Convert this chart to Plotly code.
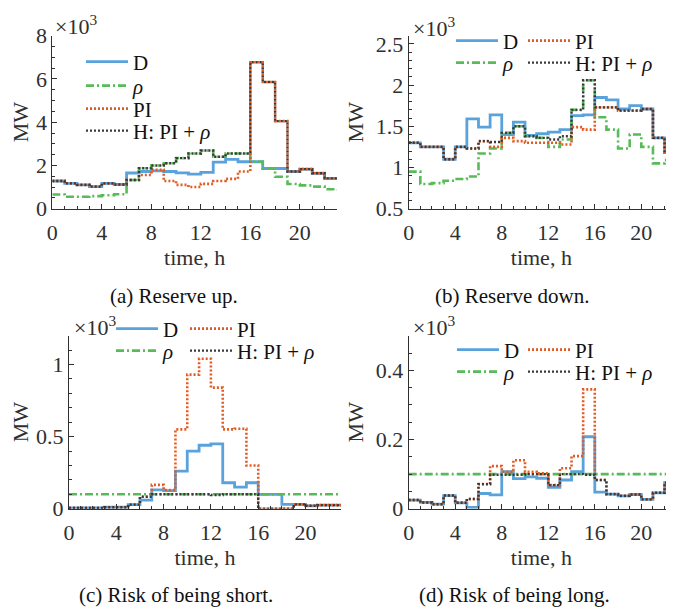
import plotly.graph_objects as go

PAGE_W, PAGE_H = 674, 610
OFF = 8  # default body margin of the page
W, H = PAGE_W - OFF, PAGE_H - OFF

hours = list(range(24))

# Panel (a) Reserve up (x10^3 MW)
D_a = [1.28, 1.17, 1.10, 1.02, 1.17, 1.12, 1.65, 1.72, 1.75, 1.72, 1.66, 1.60, 1.68, 2.15, 2.28, 2.17, 2.17, 1.86, 1.86, 1.72, 1.83, 1.64, 1.40, 1.40]
rho_a = [0.66, 0.55, 0.55, 0.58, 0.62, 0.67, 1.33, 1.87, 2.00, 2.10, 2.34, 2.55, 2.69, 2.40, 2.55, 2.55, 2.17, 1.86, 1.48, 1.14, 1.08, 1.02, 0.90, 0.85]
PI_a = [1.28, 1.17, 1.10, 1.02, 1.17, 1.12, 1.33, 1.56, 1.80, 1.28, 1.10, 1.00, 1.15, 1.28, 1.38, 1.72, 6.77, 5.86, 4.05, 1.72, 1.83, 1.64, 1.40, 1.40]
H_a = [1.28, 1.17, 1.10, 1.02, 1.17, 1.12, 1.33, 1.87, 2.00, 2.10, 2.34, 2.55, 2.69, 2.40, 2.55, 2.55, 6.77, 5.86, 4.05, 1.72, 1.83, 1.64, 1.40, 1.40]

# Panel (b) Reserve down
D_b = [1.30, 1.25, 1.25, 1.10, 1.25, 1.59, 1.49, 1.64, 1.40, 1.55, 1.39, 1.41, 1.43, 1.46, 1.63, 1.64, 1.85, 1.82, 1.71, 1.75, 1.71, 1.36, 1.18, 1.18]
rho_b = [0.95, 0.80, 0.81, 0.84, 0.86, 0.89, 1.17, 1.23, 1.42, 1.50, 1.38, 1.36, 1.25, 1.34, 1.70, 2.06, 1.61, 1.46, 1.23, 1.40, 1.25, 1.05, 1.09, 1.09]
PI_b = [1.30, 1.25, 1.25, 1.10, 1.25, 1.23, 1.32, 1.25, 1.36, 1.32, 1.30, 1.30, 1.30, 1.28, 1.49, 1.46, 1.73, 1.73, 1.69, 1.69, 1.71, 1.36, 1.18, 1.18]
H_b = [1.30, 1.25, 1.25, 1.10, 1.25, 1.23, 1.32, 1.31, 1.42, 1.50, 1.38, 1.36, 1.34, 1.38, 1.70, 2.06, 1.73, 1.73, 1.69, 1.69, 1.71, 1.36, 1.18, 1.18]

# Panel (c) Risk of being short
D_c = [0.005, 0.005, 0.005, 0.01, 0.01, 0.028, 0.06, 0.13, 0.125, 0.26, 0.40, 0.44, 0.45, 0.18, 0.15, 0.18, 0.10, 0.10, 0.03, 0.03, 0.02, 0.025, 0.025, 0.025]
rho_c = [0.10] * 24
PI_c = [0.005, 0.005, 0.005, 0.01, 0.01, 0.028, 0.083, 0.165, 0.13, 0.55, 0.93, 1.04, 0.84, 0.55, 0.555, 0.30, 0.0, 0.0, 0.0, 0.03, 0.02, 0.025, 0.025, 0.025]
H_c = [0.005, 0.005, 0.005, 0.01, 0.01, 0.028, 0.083, 0.10, 0.10, 0.10, 0.10, 0.10, 0.095, 0.10, 0.10, 0.10, 0.0, 0.0, 0.0, 0.03, 0.02, 0.025, 0.025, 0.025]

# Panel (d) Risk of being long
D_d = [0.025, 0.018, 0.013, 0.038, 0.017, 0.004, 0.044, 0.040, 0.107, 0.087, 0.092, 0.088, 0.062, 0.083, 0.107, 0.208, 0.048, 0.042, 0.037, 0.041, 0.027, 0.046, 0.075, 0.075]
rho_d = [0.10] * 24
PI_d = [0.025, 0.018, 0.013, 0.038, 0.017, 0.028, 0.071, 0.123, 0.107, 0.14, 0.107, 0.102, 0.068, 0.117, 0.152, 0.345, 0.083, 0.042, 0.037, 0.041, 0.027, 0.046, 0.075, 0.075]
H_d = [0.025, 0.018, 0.013, 0.038, 0.017, 0.028, 0.071, 0.098, 0.098, 0.098, 0.100, 0.100, 0.068, 0.100, 0.100, 0.098, 0.083, 0.042, 0.037, 0.041, 0.027, 0.046, 0.075, 0.075]

names = ["D", "<i>ρ</i>", "PI", "H: PI + <i>ρ</i>"]
subcaptions = ["(a) Reserve up.", "(b) Reserve down.", "(c) Risk of being short.", "(d) Risk of being long."]
x_ticks = [0, 4, 8, 12, 16, 20]

C_D = "#5aa2dc"
C_R = "#57bb57"
C_PI = "#e35a22"
C_H = "#3a3a3a"
styles = [
    dict(color=C_D, width=2.8, dash="solid"),
    dict(color=C_R, width=2.6, dash="8px,3px,2px,3px"),
    dict(color=C_PI, width=2.6, dash="2px,2px"),
    dict(color=C_H, width=2.4, dash="2px,2px"),
]

FONT = "Liberation Serif, DejaVu Serif, serif"
TXT = "#303030"


def px_x(p):
    return (p - OFF) / W


def px_y(p):
    return 1 - (p - OFF) / H


panels = [
    dict(series=[D_a, rho_a, PI_a, H_a], x=(52.3, 337.0), y=(35.7, 208.7), xr=[0, 23], yr=[0, 8],
         yt=[0, 2, 4, 6, 8], ytt=["0", "2", "4", "6", "8"], ymin=0.5,
         leg=[(133, 62), (133, 86), (133, 109), (133, 131)]),
    dict(series=[D_b, rho_b, PI_b, H_b], x=(408.7, 674.0), y=(35.7, 208.7), xr=[0, 22.81], yr=[0.5, 2.6],
         yt=[0.5, 1, 1.5, 2, 2.5], ytt=["0.5", "1", "1.5", "2", "2.5"], ymin=0.1,
         leg=[(503, 41), (503, 63), (575, 41), (575, 63)]),
    dict(series=[D_c, rho_c, PI_c, H_c], x=(69.0, 341.0), y=(335.7, 508.7), xr=[0, 23], yr=[0, 1.2],
         yt=[0, 0.5, 1], ytt=["0", "0.5", "1"], ymin=0.1,
         leg=[(163, 329), (163, 351), (237, 329), (237, 351)]),
    dict(series=[D_d, rho_d, PI_d, H_d], x=(408.7, 674.0), y=(335.7, 508.7), xr=[0, 22.81], yr=[0, 0.5],
         yt=[0, 0.2, 0.4], ytt=["0", "0.2", "0.4"], ymin=0.05,
         leg=[(504, 350), (504, 372), (575, 350), (575, 372)]),
]

ITEMW = 42
fig = go.Figure()
layout = dict(
    width=W, height=H, margin=dict(l=0, r=0, t=0, b=0),
    paper_bgcolor="white", plot_bgcolor="white",
    font=dict(family=FONT, size=22, color=TXT),
    annotations=[],
)

leg_n = 0
for i, p in enumerate(panels):
    k = "" if i == 0 else str(i + 1)
    for j, s in enumerate(p["series"]):
        leg_n += 1
        lname = "legend" if leg_n == 1 else "legend" + str(leg_n)
        fig.add_trace(go.Scatter(
            x=hours, y=s, mode="lines", line=dict(shape="hv", **styles[j]),
            name=names[j], xaxis="x" + k, yaxis="y" + k,
            legend=lname, showlegend=True, hoverinfo="skip",
        ))
        tx, ty = p["leg"][j]
        layout[lname] = dict(
            x=px_x(tx - ITEMW - 10), y=px_y(ty), xanchor="left", yanchor="middle",
            bgcolor="rgba(0,0,0,0)", borderwidth=0, itemwidth=ITEMW,
            font=dict(family=FONT, size=21, color="#111111"),
            itemclick=False, itemdoubleclick=False)
    axcommon = dict(showline=True, linecolor=TXT, linewidth=1, ticks="inside", tickcolor=TXT,
                    ticklen=5, showgrid=False, zeroline=False, automargin=False,
                    tickfont=dict(family=FONT, size=22, color=TXT))
    layout["xaxis" + k] = dict(
        domain=[px_x(p["x"][0]), min(1.0, px_x(p["x"][1]))], range=p["xr"], anchor="y" + k,
        tickvals=x_ticks, ticktext=[str(v) for v in x_ticks], ticklabelstandoff=4,
        minor=dict(dtick=1, tick0=0, ticks="inside", ticklen=3, tickcolor=TXT),
        title=dict(text="time, h", standoff=4, font=dict(family=FONT, size=22, color=TXT)),
        **axcommon)
    layout["yaxis" + k] = dict(
        domain=[px_y(p["y"][1]), px_y(p["y"][0])], range=p["yr"], anchor="x" + k,
        tickvals=p["yt"], ticktext=p["ytt"],
        minor=dict(dtick=p["ymin"], tick0=0, ticks="inside", ticklen=3, tickcolor=TXT),
        title=dict(text="MW", standoff=6, font=dict(family=FONT, size=22, color=TXT)),
        **axcommon)

# x10^3 multipliers
mult_pos = [(53, 25), (411, 27), (72, 326), (411, 326)]
for (mx, my) in mult_pos:
    layout["annotations"].append(dict(
        text="×10<sup>3</sup>", x=px_x(mx), y=px_y(my), xref="paper", yref="paper",
        xanchor="left", yanchor="middle", showarrow=False,
        font=dict(family=FONT, size=22, color=TXT)))

# subcaptions
cap_pos = [(174, 296), (512, 296), (176, 595), (514, 595)]
for txt, (cx, cy) in zip(subcaptions, cap_pos):
    layout["annotations"].append(dict(
        text=txt, x=px_x(cx), y=px_y(cy), xref="paper", yref="paper",
        xanchor="center", yanchor="middle", showarrow=False,
        font=dict(family=FONT, size=21, color="#111111")))

fig.update_layout(**layout)
fig.write_html("out.html")
